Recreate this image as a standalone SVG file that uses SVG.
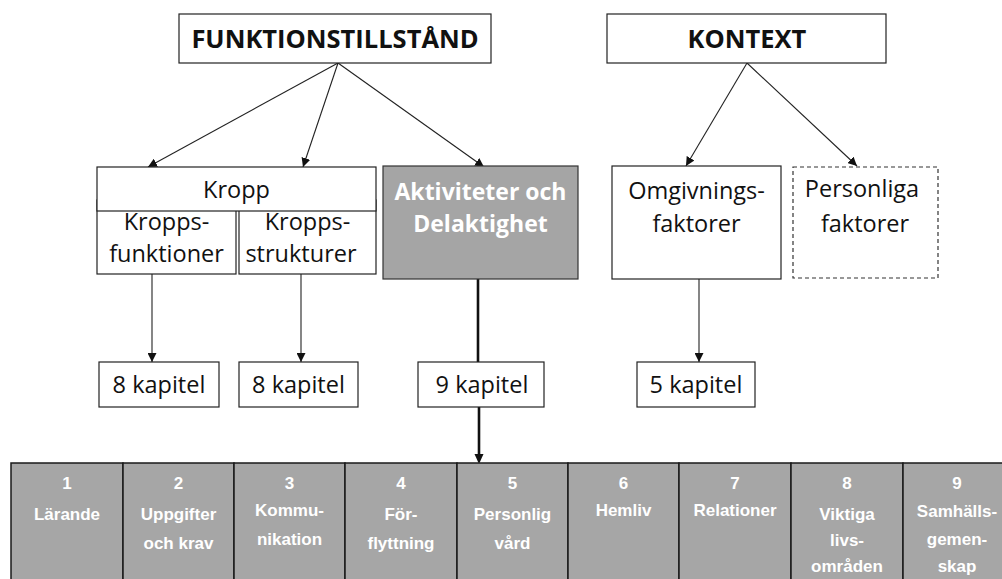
<svg xmlns="http://www.w3.org/2000/svg" width="1002" height="579" viewBox="0 0 1002 579">
  <defs>
    <marker id="arrow" markerUnits="userSpaceOnUse" markerWidth="10" markerHeight="9" refX="9" refY="4.5" orient="auto">
      <path d="M0,0 L9,4.5 L0,9 z" fill="#111"/>
    </marker>
    <style>
      .box { fill: #fff; stroke: #222; stroke-width: 1.2; }
      .dash { fill: #fff; stroke: #333; stroke-width: 1.2; stroke-dasharray: 4 3; }
      .grey { fill: #a5a5a5; stroke: #333; stroke-width: 1.2; }
      .title { font-family: "Open Sans", "Liberation Sans", sans-serif; font-weight: bold; font-size: 25.5px; fill: #111; text-anchor: middle; }
      .lbl { font-family: "Open Sans", "Liberation Sans", sans-serif; font-size: 23.5px; fill: #111; text-anchor: middle; }
      .lblw { font-family: "Open Sans", "Liberation Sans", sans-serif; font-weight: bold; font-size: 23px; fill: #fff; text-anchor: middle; }
      .cell { fill: #a6a6a6; stroke: #1a1a1a; stroke-width: 1.5; }
      .ct { font-family: "Liberation Sans", Arial, sans-serif; font-weight: bold; font-size: 17px; fill: #fff; text-anchor: middle; }
      .thin { stroke: #222; stroke-width: 1.1; fill: none; }
      .thick { stroke: #111; stroke-width: 2.6; fill: none; }
    </style>
  </defs>
  <rect width="1002" height="579" fill="#fff"/>

  <!-- connectors -->
  <g id="connectors">
    <line class="thin" x1="338" y1="63" x2="148" y2="167" marker-end="url(#arrow)"/>
    <line class="thin" x1="338" y1="63" x2="303" y2="167" marker-end="url(#arrow)"/>
    <line class="thin" x1="338" y1="63" x2="484" y2="167" marker-end="url(#arrow)"/>
    <line class="thin" x1="747" y1="63" x2="686" y2="166" marker-end="url(#arrow)"/>
    <line class="thin" x1="747" y1="63" x2="857" y2="166" marker-end="url(#arrow)"/>
    <line class="thin" x1="152" y1="274" x2="152" y2="362" marker-end="url(#arrow)"/>
    <line class="thin" x1="301" y1="274" x2="301" y2="362" marker-end="url(#arrow)"/>
    <line class="thin" x1="699" y1="279" x2="699" y2="362" marker-end="url(#arrow)"/>
    <line class="thick" x1="478" y1="279" x2="478" y2="362"/>
    <line class="thick" x1="479" y1="407" x2="479" y2="455"/>
    <path d="M474.5,454 L483.5,454 L479,464 z" fill="#111"/>
  </g>

  <!-- top level -->
  <g id="funktionstillstand">
    <rect class="box" x="179" y="14" width="312" height="49"/>
    <text class="title" x="335" y="48">FUNKTIONSTILLSTÅND</text>
  </g>
  <g id="kontext">
    <rect class="box" x="607" y="14" width="279" height="49"/>
    <text class="title" x="747" y="48">KONTEXT</text>
  </g>

  <!-- second level -->
  <g id="kroppsfunktioner">
    <rect class="box" x="97" y="200" width="139" height="74"/>
    <text class="lbl" x="166.5" y="230">Kropps-</text>
    <text class="lbl" x="166.5" y="262">funktioner</text>
  </g>
  <g id="kroppsstrukturer">
    <rect class="box" x="239" y="200" width="137" height="74"/>
    <text class="lbl" x="307.5" y="230">Kropps-</text>
    <text class="lbl" x="301" y="262">strukturer</text>
  </g>
  <g id="kropp">
    <rect class="box" x="97" y="167" width="279" height="44"/>
    <text class="lbl" x="236.5" y="198">Kropp</text>
  </g>
  <g id="aktiviteter">
    <rect class="grey" x="383" y="166" width="195" height="113"/>
    <text class="lblw" x="480.5" y="200">Aktiviteter och</text>
    <text class="lblw" x="480.5" y="232">Delaktighet</text>
  </g>
  <g id="omgivningsfaktorer">
    <rect class="box" x="612" y="166" width="169" height="113"/>
    <text class="lbl" x="696.5" y="199">Omgivnings-</text>
    <text class="lbl" x="696.5" y="232">faktorer</text>
  </g>
  <g id="personliga">
    <rect class="dash" x="793" y="167" width="145" height="111"/>
    <text class="lbl" x="862" y="197">Personliga</text>
    <text class="lbl" x="865" y="232">faktorer</text>
  </g>

  <!-- chapter counts -->
  <g id="kap-kroppsfunktioner">
    <rect class="box" x="99" y="362" width="120" height="45"/>
    <text class="lbl" x="159" y="393">8 kapitel</text>
  </g>
  <g id="kap-kroppsstrukturer">
    <rect class="box" x="239" y="362" width="119" height="45"/>
    <text class="lbl" x="298.5" y="393">8 kapitel</text>
  </g>
  <g id="kap-aktiviteter">
    <rect class="box" x="418" y="362" width="126" height="45"/>
    <text class="lbl" x="482" y="393">9 kapitel</text>
  </g>
  <g id="kap-omgivning">
    <rect class="box" x="637" y="362" width="118" height="45"/>
    <text class="lbl" x="696" y="393">5 kapitel</text>
  </g>

  <!-- domain table -->
  <g id="domain-1">
    <rect class="cell" x="11" y="463" width="112" height="130"/>
    <text class="ct" x="67" y="489">1</text>
    <text class="ct" x="67" y="520">Lärande</text>
  </g>
  <g id="domain-2">
    <rect class="cell" x="123" y="463" width="111" height="130"/>
    <text class="ct" x="178.5" y="489">2</text>
    <text class="ct" x="178.5" y="520">Uppgifter</text>
    <text class="ct" x="178.5" y="549">och krav</text>
  </g>
  <g id="domain-3">
    <rect class="cell" x="234" y="463" width="111" height="130"/>
    <text class="ct" x="289.5" y="489">3</text>
    <text class="ct" x="289.5" y="516">Kommu-</text>
    <text class="ct" x="289.5" y="545">nikation</text>
  </g>
  <g id="domain-4">
    <rect class="cell" x="345" y="463" width="112" height="130"/>
    <text class="ct" x="401" y="489">4</text>
    <text class="ct" x="401" y="520">För-</text>
    <text class="ct" x="401" y="549">flyttning</text>
  </g>
  <g id="domain-5">
    <rect class="cell" x="457" y="463" width="111" height="130"/>
    <text class="ct" x="512.5" y="489">5</text>
    <text class="ct" x="512.5" y="520">Personlig</text>
    <text class="ct" x="512.5" y="549">vård</text>
  </g>
  <g id="domain-6">
    <rect class="cell" x="568" y="463" width="111" height="130"/>
    <text class="ct" x="623.5" y="489">6</text>
    <text class="ct" x="623.5" y="516">Hemliv</text>
  </g>
  <g id="domain-7">
    <rect class="cell" x="679" y="463" width="112" height="130"/>
    <text class="ct" x="735" y="489">7</text>
    <text class="ct" x="735" y="516">Relationer</text>
  </g>
  <g id="domain-8">
    <rect class="cell" x="791" y="463" width="112" height="130"/>
    <text class="ct" x="847" y="489">8</text>
    <text class="ct" x="847" y="520">Viktiga</text>
    <text class="ct" x="847" y="546">livs-</text>
    <text class="ct" x="847" y="572">områden</text>
  </g>
  <g id="domain-9">
    <rect class="cell" x="903" y="463" width="111" height="130"/>
    <text class="ct" x="957" y="489">9</text>
    <text class="ct" x="957" y="517">Samhälls-</text>
    <text class="ct" x="957" y="545">gemen-</text>
    <text class="ct" x="957" y="572">skap</text>
  </g>
</svg>
